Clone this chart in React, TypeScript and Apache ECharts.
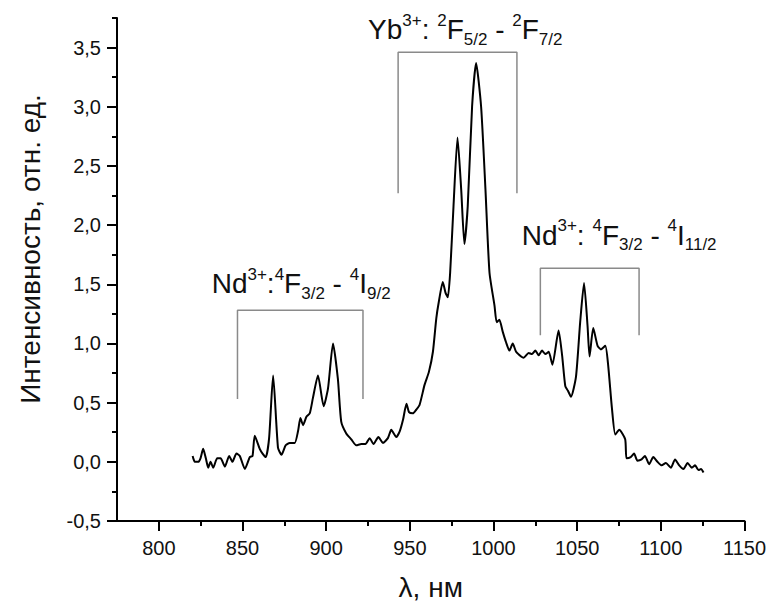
import React, { useEffect, useRef } from 'react';
import * as echarts from 'echarts';

// Spectrum: wavelength (nm) and intensity (rel. units)
const wavelength = [
  820.2, 821.5, 823.5, 824.9, 826.5, 828.1, 829.5, 830.9, 832.5, 834.9, 836.9, 839.5, 842.0, 844.0,
  846.4, 848.4, 851.4, 854.4, 856.0, 857.3, 860.3, 862.0, 863.9, 865.9, 868.3, 871.2, 873.3, 875.8,
  878.2, 881.2, 883.2, 884.6, 886.2, 888.2, 890.2, 892.1, 895.1, 898.5, 901.1, 904.1, 907.0, 909.0,
  912.0, 915.0, 918.0, 921.0, 923.5, 926.0, 928.3, 931.2, 933.9, 936.9, 938.9, 941.9, 944.0, 946.0,
  948.0, 949.5, 951.8, 953.8, 955.8, 958.8, 961.4, 963.8, 965.8, 967.3, 969.7, 971.3, 972.7, 974.1,
  976.1, 978.5, 980.7, 982.6, 984.6, 987.2, 989.6, 992.6, 995.2, 997.6, 1000.6, 1001.9, 1003.5,
  1005.5, 1007.5, 1009.5, 1011.5, 1013.5, 1016.5, 1018.0, 1021.0, 1023.0, 1025.0, 1027.0, 1029.0,
  1031.0, 1033.0, 1035.2, 1038.9, 1041.0, 1042.9, 1044.5, 1046.3, 1049.3, 1051.8, 1054.1, 1056.2,
  1057.4, 1059.6, 1062.2, 1064.2, 1066.8, 1068.5, 1070.8, 1072.8, 1075.1, 1078.7, 1079.5, 1082.0,
  1084.0, 1086.0, 1088.5, 1090.5, 1093.0, 1095.5, 1098.0, 1100.5, 1103.0, 1106.0, 1108.5, 1111.0,
  1113.5, 1116.0, 1118.5, 1120.5, 1122.5, 1124.0, 1125.5,
];
const intensity = [
  0.05, 0.0, 0.0, 0.03, 0.11, 0.03, -0.05, 0.0, -0.05, 0.03, 0.03, -0.04, 0.05, 0.0,
  0.07, 0.05, -0.06, 0.04, 0.05, 0.22, 0.11, 0.07, 0.04, 0.2, 0.73, 0.12, 0.06, 0.14,
  0.16, 0.16, 0.26, 0.37, 0.31, 0.38, 0.41, 0.54, 0.73, 0.47, 0.62, 1.0, 0.7, 0.34,
  0.24, 0.19, 0.14, 0.15, 0.15, 0.2, 0.15, 0.21, 0.16, 0.2, 0.27, 0.21, 0.26, 0.36,
  0.49, 0.42, 0.41, 0.44, 0.48, 0.65, 0.76, 0.93, 1.21, 1.35, 1.52, 1.43, 1.39, 1.6,
  2.16, 2.74, 2.3, 1.84, 2.16, 3.0, 3.37, 3.0, 2.3, 1.6, 1.32, 1.18, 1.2,
  1.1, 1.01, 0.94, 1.0, 0.93, 0.89, 0.88, 0.92, 0.91, 0.94, 0.9, 0.94,
  0.91, 0.93, 0.82, 1.11, 0.9, 0.64, 0.6, 0.55, 0.72, 1.18, 1.51, 1.15,
  0.89, 1.13, 0.98, 0.95, 0.98, 0.82, 0.45, 0.23, 0.27, 0.19, 0.03, 0.04,
  0.07, 0.01, 0.02, 0.05, -0.02, 0.04, 0.0, -0.03, -0.01, -0.05, 0.02, -0.03,
  -0.06, -0.01, -0.05, -0.03, -0.07, -0.06, -0.09,
];

// Axis ticks
const xMajorTicks = [800, 850, 900, 950, 1000, 1050, 1100, 1150];
const xMinorTicks = [825, 875, 925, 975, 1025, 1075, 1125];
const yMajorTicks = [-0.5, 0, 0.5, 1, 1.5, 2, 2.5, 3, 3.5];
const yMinorTicks = [-0.25, 0.25, 0.75, 1.25, 1.75, 2.25, 2.75, 3.25, 3.75];

// Axis titles
const xTitle = 'λ, нм';
const yTitle = 'Интенсивность, отн. ед.';

// Transition brackets
const bracketStarts = [847, 943, 1028];
const bracketEnds = [922, 1014, 1087];
const bracketTops = [1.28, 3.46, 1.635];
const bracketBottoms = [0.53, 2.27, 1.07];

// Transition labels (rich text: m = main, s = superscript, b = subscript)
const transitionLabels = [
  '{m|Nd}{s|3+}{m|:}{s|4}{m|F}{b|3/2}{m| - }{s|4}{m|I}{b|9/2}',
  '{m|Yb}{s|3+}{m|: }{s|2}{m|F}{b|5/2}{m| - }{s|2}{m|F}{b|7/2}',
  '{m|Nd}{s|3+}{m|: }{s|4}{m|F}{b|3/2}{m| - }{s|4}{m|I}{b|11/2}',
];
const labelLeft = [211.7, 368, 521.7];
const labelTop = [265.5, 11.5, 217.2];

export default function App() {
  const ref = useRef<HTMLDivElement>(null);
  useEffect(() => {
    document.body.style.margin = '0';
    const chart = echarts.init(ref.current!, null, { renderer: 'svg' });
    const fontFamily = '"Liberation Sans", Arial, Helvetica, sans-serif';
    const fmt = (v: number) => v.toFixed(1).replace('.', ',');
    const tickStyle = { color: '#000', width: 2 };
    const rich = {
      m: { fontSize: 28, lineHeight: 36, fontFamily, fill: '#111' },
      s: { fontSize: 17, lineHeight: 26, verticalAlign: 'top', fontFamily, fill: '#111' },
      b: { fontSize: 17, lineHeight: 14, verticalAlign: 'bottom', fontFamily, fill: '#111' },
    };
    const brackets = bracketStarts.map((x0, i) => ({
      type: 'line',
      data: [
        [x0, bracketBottoms[i]],
        [x0, bracketTops[i]],
        [bracketEnds[i], bracketTops[i]],
        [bracketEnds[i], bracketBottoms[i]],
      ],
      symbol: 'none',
      silent: true,
      lineStyle: { color: '#8a8a8a', width: 1.5 },
      z: 1,
    }));
    chart.setOption({
      animation: false,
      textStyle: { fontFamily },
      grid: { left: 117, right: 24, top: 18, bottom: 83 },
      xAxis: [
        {
          type: 'value', min: 775, max: 1150, position: 'bottom',
          splitLine: { show: false },
          axisLine: { onZero: false, lineStyle: { color: '#000', width: 2 } },
          axisTick: { customValues: xMinorTicks, length: 5, lineStyle: tickStyle },
          axisLabel: { show: false },
          name: xTitle, nameLocation: 'middle', nameGap: 52,
          nameTextStyle: { fontSize: 28, color: '#111', fontFamily },
        },
        {
          type: 'value', min: 775, max: 1150, position: 'bottom',
          splitLine: { show: false },
          axisLine: { show: false, onZero: false },
          axisTick: { customValues: xMajorTicks, length: 10, lineStyle: tickStyle },
          axisLabel: {
            customValues: xMajorTicks, fontSize: 20, color: '#111', margin: 17, fontFamily,
            formatter: (v: number) => String(v),
          },
        },
      ],
      yAxis: [
        {
          type: 'value', min: -0.5, max: 3.75, position: 'left',
          splitLine: { show: false },
          axisLine: { show: true, onZero: false, lineStyle: { color: '#000', width: 2 } },
          axisTick: { show: true, customValues: yMinorTicks, length: 5, lineStyle: tickStyle },
          axisLabel: { show: false },
        },
        {
          type: 'value', min: -0.5, max: 3.75, position: 'left',
          splitLine: { show: false },
          axisLine: { show: false, onZero: false },
          axisTick: { show: true, customValues: yMajorTicks, length: 10, lineStyle: tickStyle },
          axisLabel: { customValues: yMajorTicks, fontSize: 20, color: '#111', margin: 16, fontFamily, formatter: fmt },
        },
      ],
      series: [
        {
          type: 'line',
          data: wavelength.map((w, i) => [w, intensity[i]]),
          symbol: 'none',
          smooth: 0.2,
          lineStyle: { color: '#000', width: 2 },
          z: 3,
        },
        ...brackets,
      ],
      graphic: [
        {
          type: 'text',
          x: 30,
          y: 249,
          rotation: Math.PI / 2,
          silent: true,
          style: {
            text: yTitle, fontSize: 28, fontFamily, fill: '#111',
            align: 'center', verticalAlign: 'middle',
          },
        },
        ...transitionLabels.map((t, i) => ({
          type: 'text',
          x: labelLeft[i],
          y: labelTop[i],
          silent: true,
          style: { text: t, rich, fill: '#111', fontFamily },
        })),
      ],
    });
    return () => chart.dispose();
  }, []);
  return <div ref={ref} style={{ width: 769, height: 606 }} />;
}
